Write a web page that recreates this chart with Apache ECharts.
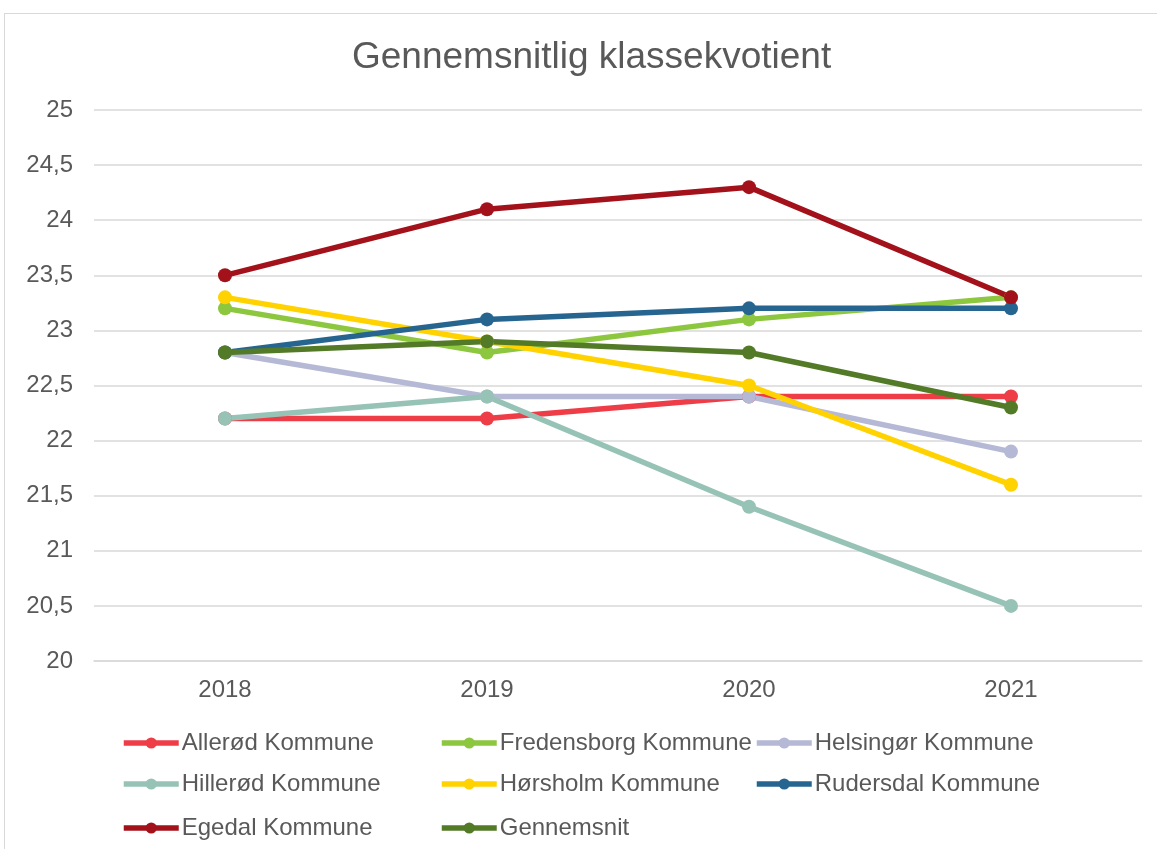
<!DOCTYPE html>
<html lang="da">
<head>
<meta charset="utf-8">
<title>Gennemsnitlig klassekvotient</title>
<script src="https://cdn.jsdelivr.net/npm/echarts@6/dist/echarts.min.js"></script>
<style>
    html, body { margin: 0; padding: 0; background: #fff; }
    #frame { position: absolute; left: 4px; top: 13px; width: 1160px; height: 850px; border: 1.5px solid #d9d9d9; box-sizing: border-box; }
    #chart { position: absolute; left: 0; top: 0; width: 1157px; height: 849px; }
</style>
</head>
<body>
<div id="frame"></div>
<div id="chart"></div>
<script type="text/javascript">
    // years on the x axis
    var years = ['2018', '2019', '2020', '2021'];

    // values per municipality
    var allerod = [22.2, 22.2, 22.4, 22.4];
    var fredensborg = [23.2, 22.8, 23.1, 23.3];
    var helsingor = [22.8, 22.4, 22.4, 21.9];
    var hillerod = [22.2, 22.4, 21.4, 20.5];
    var horsholm = [23.3, 22.9, 22.5, 21.6];
    var rudersdal = [22.8, 23.1, 23.2, 23.2];
    var egedal = [23.5, 24.1, 24.3, 23.3];
    var gennemsnit = [22.8, 22.9, 22.8, 22.3];

    var names = ['Allerød Kommune', 'Fredensborg Kommune', 'Helsingør Kommune', 'Hillerød Kommune',
        'Hørsholm Kommune', 'Rudersdal Kommune', 'Egedal Kommune', 'Gennemsnit'];
    var values = [allerod, fredensborg, helsingor, hillerod, horsholm, rudersdal, egedal, gennemsnit];
    var colors = ['#EE3D47', '#8DC63F', '#B5B9D5', '#97C3B7', '#FFD200', '#276591', '#A3121A', '#537A27'];

    var txt = '#595959';
    var font = '"Liberation Sans", Arial, sans-serif';

    var series = names.map(function (n, i) {
        return {
            name: n,
            type: 'line',
            data: values[i],
            symbol: 'circle',
            symbolSize: 14,
            color: colors[i],
            lineStyle: {width: 5.5},
            itemStyle: {color: colors[i]},
            emphasis: {disabled: true},
            animation: false
        };
    });

    // one legend per entry so the three columns line up like in Excel
    var colLeft = [121, 439, 754];
    var rowMid = [741, 782, 826];
    var legends = names.map(function (n, i) {
        return {
            left: colLeft[i % 3],
            top: rowMid[Math.floor(i / 3)] - 10,
            padding: 0,
            itemWidth: 55,
            itemHeight: 14,
            itemGap: 0,
            data: [n],
            lineStyle: {width: 5.5},
            textStyle: {color: txt, fontSize: 24, fontFamily: font, padding: [0, 0, 0, -2]},
            selectedMode: false
        };
    });

    var chart = echarts.init(document.getElementById('chart'));
    chart.setOption({
        title: {
            text: 'Gennemsnitlig klassekvotient',
            left: 347,
            top: 34,
            textStyle: {color: txt, fontSize: 37, fontWeight: 'normal', fontFamily: font}
        },
        legend: legends,
        grid: {left: 94, right: 15, top: 110, bottom: 188, containLabel: false},
        xAxis: {
            type: 'category',
            data: years,
            boundaryGap: true,
            axisLine: {lineStyle: {color: '#d9d9d9', width: 1.5}},
            axisTick: {show: false},
            axisLabel: {color: txt, fontSize: 24, fontFamily: font, margin: 17}
        },
        yAxis: {
            type: 'value',
            min: 20,
            max: 25,
            interval: 0.5,
            axisLine: {show: false},
            axisTick: {show: false},
            splitLine: {lineStyle: {color: '#d9d9d9', width: 1.5}},
            axisLabel: {
                color: txt, fontSize: 24, fontFamily: font, margin: 21,
                formatter: function (v) { return String(v).replace('.', ','); }
            }
        },
        series: series
    });
</script>
</body>
</html>
